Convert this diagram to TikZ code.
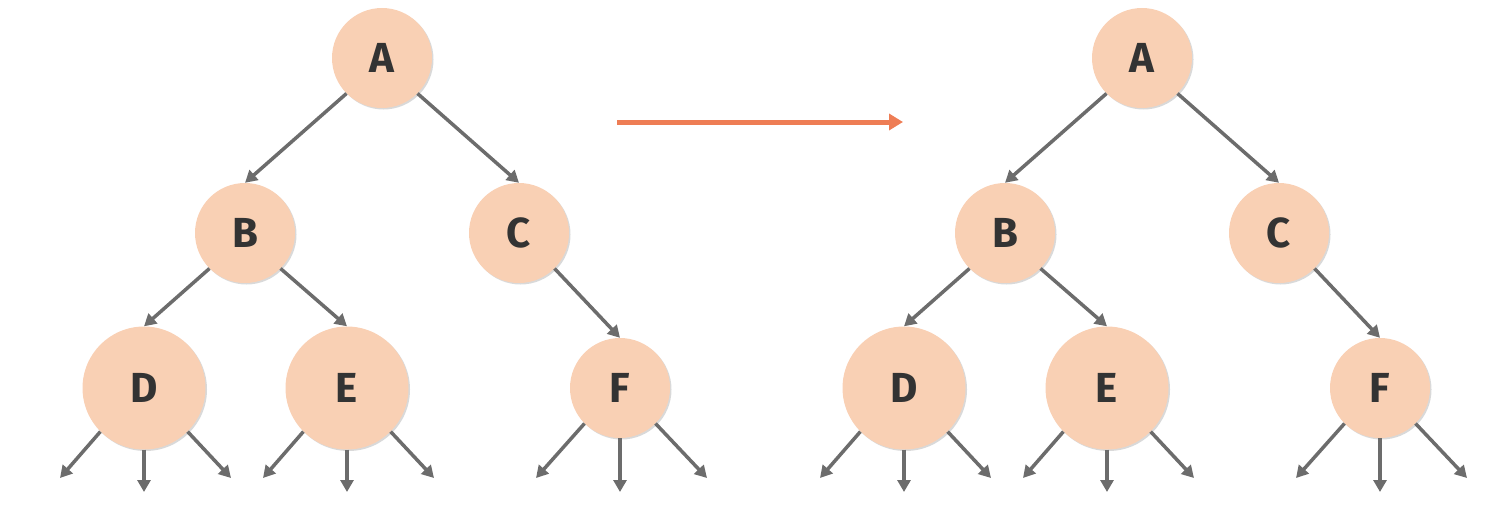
\documentclass[tikz,border=0pt]{standalone}
\usepackage{fontspec}
\setmainfont{Fira Sans}
\usetikzlibrary{arrows.meta,positioning,shadows}
\definecolor{treePeach}{HTML}{F9D0B4}
\definecolor{treeGray}{HTML}{6C6C6C}
\definecolor{treeOrange}{HTML}{EE7D55}
\definecolor{treeInk}{HTML}{333333}

\begin{document}
\begin{tikzpicture}[
  x=1pt,y=1pt,
  node distance=175pt and 137pt, on grid,
  vertex/.style={circle,fill=treePeach,inner sep=0pt,minimum size=100pt,text=treeInk,font=\fontsize{42}{42}\selectfont\bfseries,
    drop shadow={shadow xshift=1.5pt,shadow yshift=-1.5pt,opacity=0.15,fill=black}},
  bigvertex/.style={vertex,minimum size=123pt},
  edge/.style={-{Triangle[length=12pt,width=13pt]},line width=3.5pt,color=treeGray},
  swap/.style={-{Triangle[length=14pt,width=16pt]},line width=5pt,color=treeOrange}
]
\useasboundingbox (0,0) rectangle (1490,-511);
% both trees are drawn the same way
\foreach \tree/\dx in {L/0,R/760}{
  \begin{scope}[xshift=\dx pt]
    \node[vertex] (\tree A) at (382,-58) {A};
    \node[vertex,below left=of \tree A] (\tree B) {B};
    \node[vertex,below right=of \tree A] (\tree C) {C};
    \node[bigvertex,below left=155pt and 101pt of \tree B] (\tree D) {D};
    \node[bigvertex,below right=155pt and 102pt of \tree B] (\tree E) {E};
    \node[vertex,below right=155pt and 101pt of \tree C] (\tree F) {F};
    \draw[edge] (\tree A.-135) -- (\tree B.north);
    \draw[edge] (\tree A.-45) -- (\tree C.north);
    \draw[edge] (\tree B.-135) -- (\tree D.north);
    \draw[edge] (\tree B.-45) -- (\tree E.north);
    \draw[edge] (\tree C.-45) -- (\tree F.north);
    % open links below the bottom row
    \foreach \leaf in {D,E,F}{
      \coordinate[below left=90pt and 84pt of \tree\leaf] (\tree\leaf1);
      \coordinate[below=104pt of \tree\leaf] (\tree\leaf2);
      \coordinate[below right=90pt and 87pt of \tree\leaf] (\tree\leaf3);
      \draw[edge] (\tree\leaf.-135) -- (\tree\leaf1);
      \draw[edge] (\tree\leaf.south) -- (\tree\leaf2);
      \draw[edge] (\tree\leaf.-45) -- (\tree\leaf3);
    }
  \end{scope}
}
\coordinate (swapStart) at (617,-122);
\coordinate (swapEnd) at (903,-122);
\draw[swap] (swapStart) -- (swapEnd);
\end{tikzpicture}
\end{document}
